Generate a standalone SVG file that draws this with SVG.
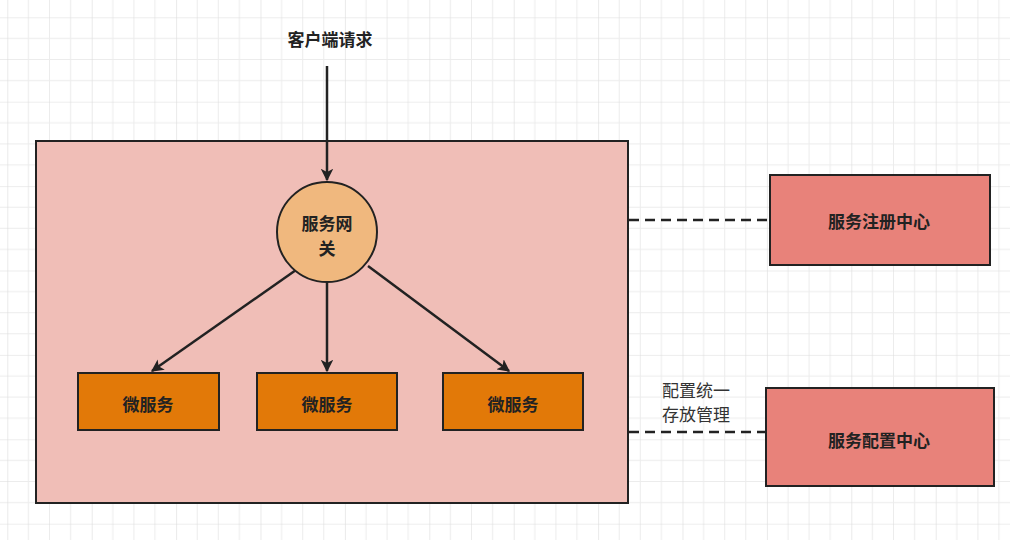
<svg xmlns="http://www.w3.org/2000/svg" width="1010" height="540" viewBox="0 0 1010 540">
<style>
text{font-family:"Noto Sans CJK SC","Noto Sans",sans-serif;fill:#222;text-anchor:middle;dominant-baseline:central}
.b{font-weight:bold;font-size:17px}
.n{font-size:17px;fill:#333}
.edge{stroke:#222;stroke-width:2.5;fill:none}
.dash{stroke:#222;stroke-width:2.5;fill:none;stroke-dasharray:10 6}
.box{stroke:#222;stroke-width:2}
</style>
<defs>
<pattern id="g" x="7.3" y="17.3" width="84.4" height="84.4" patternUnits="userSpaceOnUse">
<path d="M21.1 0V84.4M42.2 0V84.4M63.3 0V84.4M0 21.1H84.4M0 42.2H84.4M0 63.3H84.4" stroke="#ececec" stroke-width="1"/>
<path d="M0 0V84.4M0 0H84.4" stroke="#dcdcdc" stroke-width="1.2"/>
</pattern>
<marker id="a" viewBox="0 0 10 10" refX="9" refY="5" markerWidth="5" markerHeight="5" orient="auto" markerUnits="strokeWidth">
<path d="M0 0L10 5L0 10L2.5 5z" fill="#222"/>
</marker>
</defs>
<rect width="1010" height="540" fill="#fff"/>
<rect width="1010" height="540" fill="url(#g)"/>
<text class="b" x="330" y="38">客户端请求</text>
<g id="container"><rect class="box" x="36" y="141" width="592" height="362" fill="#f0beb7"/></g>
<g id="connectors">
<line class="edge" x1="327" y1="66" x2="327" y2="180" marker-end="url(#a)"/>
<line class="edge" x1="296" y1="270" x2="152" y2="371" marker-end="url(#a)"/>
<line class="edge" x1="327" y1="283" x2="327" y2="371" marker-end="url(#a)"/>
<line class="edge" x1="368" y1="266" x2="509" y2="371" marker-end="url(#a)"/>
<line class="dash" x1="629" y1="220" x2="769" y2="220"/>
<line class="dash" x1="629" y1="432" x2="765" y2="432"/>
</g>
<text class="n" x="696" y="389">配置统一</text>
<text class="n" x="696" y="413">存放管理</text>
<g id="gateway"><circle class="box" cx="327" cy="232" r="50" fill="#f0b87e"/>
<text class="b" x="327" y="222">服务网</text><text class="b" x="327" y="247">关</text></g>
<g id="ms1"><rect class="box" x="78" y="373" width="141" height="57" fill="#e27908"/><text class="b" x="148" y="403">微服务</text></g>
<g id="ms2"><rect class="box" x="257" y="373" width="140" height="57" fill="#e27908"/><text class="b" x="327" y="403">微服务</text></g>
<g id="ms3"><rect class="box" x="443" y="373" width="140" height="57" fill="#e27908"/><text class="b" x="513" y="403">微服务</text></g>
<g id="registry"><rect class="box" x="770" y="175" width="220" height="90" fill="#e8827a"/><text class="b" x="879" y="220">服务注册中心</text></g>
<g id="config"><rect class="box" x="766" y="388" width="228" height="98" fill="#e8827a"/><text class="b" x="879" y="439">服务配置中心</text></g>
</svg>
